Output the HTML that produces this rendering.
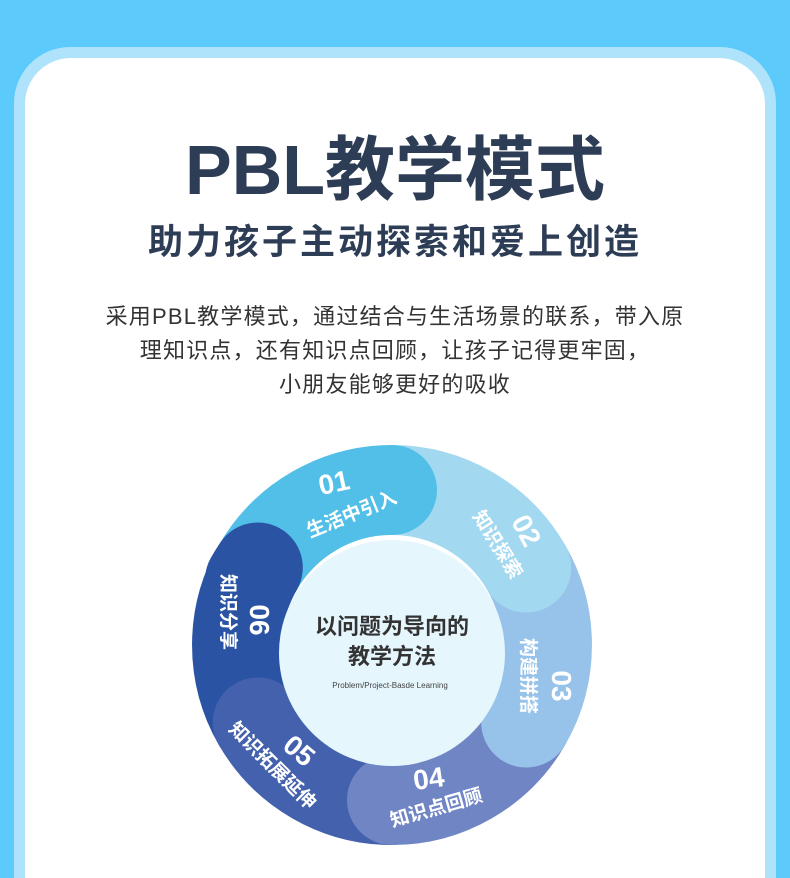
<!DOCTYPE html>
<html style="width:790px;height:878px;overflow:hidden;"><head><meta charset="utf-8"><style>
html,body{margin:0;padding:0;}
body{width:790px;height:878px;overflow:hidden;background:#5ccafb;position:relative;font-family:"Liberation Sans","Noto Sans CJK SC",sans-serif;}
.card{position:absolute;left:14px;top:47px;width:762px;height:831px;border-radius:56px 56px 0 0;background:#aee3fb;}
.inner{position:absolute;left:25px;top:58px;width:740px;height:820px;border-radius:46px 46px 0 0;background:#fff;}
.t{position:absolute;left:0;width:790px;text-align:center;color:#2e3d56;font-weight:bold;}
</style></head><body>
<div class="card"></div><div class="inner"></div>
<div class="t" style="top:122px;font-size:70px;line-height:96px;letter-spacing:0px;">PBL教学模式</div>
<div class="t" style="top:220px;font-size:35px;line-height:46px;letter-spacing:3px;">助力孩子主动探索和爱上创造</div>
<div class="t" style="top:300px;font-size:22px;line-height:34px;font-weight:normal;color:#333;letter-spacing:1.2px;">采用PBL教学模式，通过结合与生活场景的联系，带入原<br>理知识点，还有知识点回顾，让孩子记得更牢固，<br>小朋友能够更好的吸收</div>
<svg width="790" height="878" style="position:absolute;left:0;top:0" font-family="Liberation Sans, Noto Sans CJK SC, sans-serif">
<g fill="none" stroke-width="90">
<path d="M257.8 722.5 A155 155 0 0 1 257.8 567.5" stroke="#2a54a3" stroke-linecap="round"/>
<path d="M392 800 A155 155 0 0 1 257.8 722.5" stroke="#4461ad" stroke-linecap="round"/>
<path d="M526.2 722.5 A155 155 0 0 1 392 800" stroke="#7085c4" stroke-linecap="round"/>
<path d="M526.2 567.5 A155 155 0 0 1 526.2 722.5" stroke="#97c3ea" stroke-linecap="round"/>
<path d="M392 490 A155 155 0 0 1 526.2 567.5" stroke="#a3d9f0" stroke-linecap="round"/>
<path d="M257.8 567.5 A155 155 0 0 1 392 490" stroke="#52bfe8" stroke-linecap="round"/>
<path d="M250 580 A155 155 0 0 1 257.8 567.5" stroke="#2a54a3" stroke-linecap="round"/>
</g>
<circle cx="392" cy="653" r="113" fill="#e5f6fd"/>
<text x="392" y="634" text-anchor="middle" font-size="22" font-weight="bold" fill="#333">以问题为导向的</text>
<text x="392" y="664" text-anchor="middle" font-size="22" font-weight="bold" fill="#333">教学方法</text>
<text x="390" y="688" text-anchor="middle" font-size="8" fill="#444">Problem/Project-Basde Learning</text>
<g fill="#fff" font-weight="bold">
<text transform="translate(336,492) rotate(-12)" text-anchor="middle" font-size="28">01</text>
<text transform="translate(354,520) rotate(-22)" text-anchor="middle" font-size="19">生活中引入</text>
<text transform="translate(518,535) rotate(62)" text-anchor="middle" font-size="28">02</text>
<text transform="translate(492,548) rotate(58)" text-anchor="middle" font-size="19">知识探索</text>
<text transform="translate(552,686) rotate(90)" text-anchor="middle" font-size="28">03</text>
<text transform="translate(522,676) rotate(90)" text-anchor="middle" font-size="19">构建拼搭</text>
<text transform="translate(430,788) rotate(-8)" text-anchor="middle" font-size="28">04</text>
<text transform="translate(438,814) rotate(-16)" text-anchor="middle" font-size="19">知识点回顾</text>
<text transform="translate(293,758) rotate(40)" text-anchor="middle" font-size="28">05</text>
<text transform="translate(268,770) rotate(45)" text-anchor="middle" font-size="19">知识拓展延伸</text>
<text transform="translate(250,620) rotate(90)" text-anchor="middle" font-size="28">06</text>
<text transform="translate(222,612) rotate(90)" text-anchor="middle" font-size="19">知识分享</text>
</g>
</svg>
</body></html>
